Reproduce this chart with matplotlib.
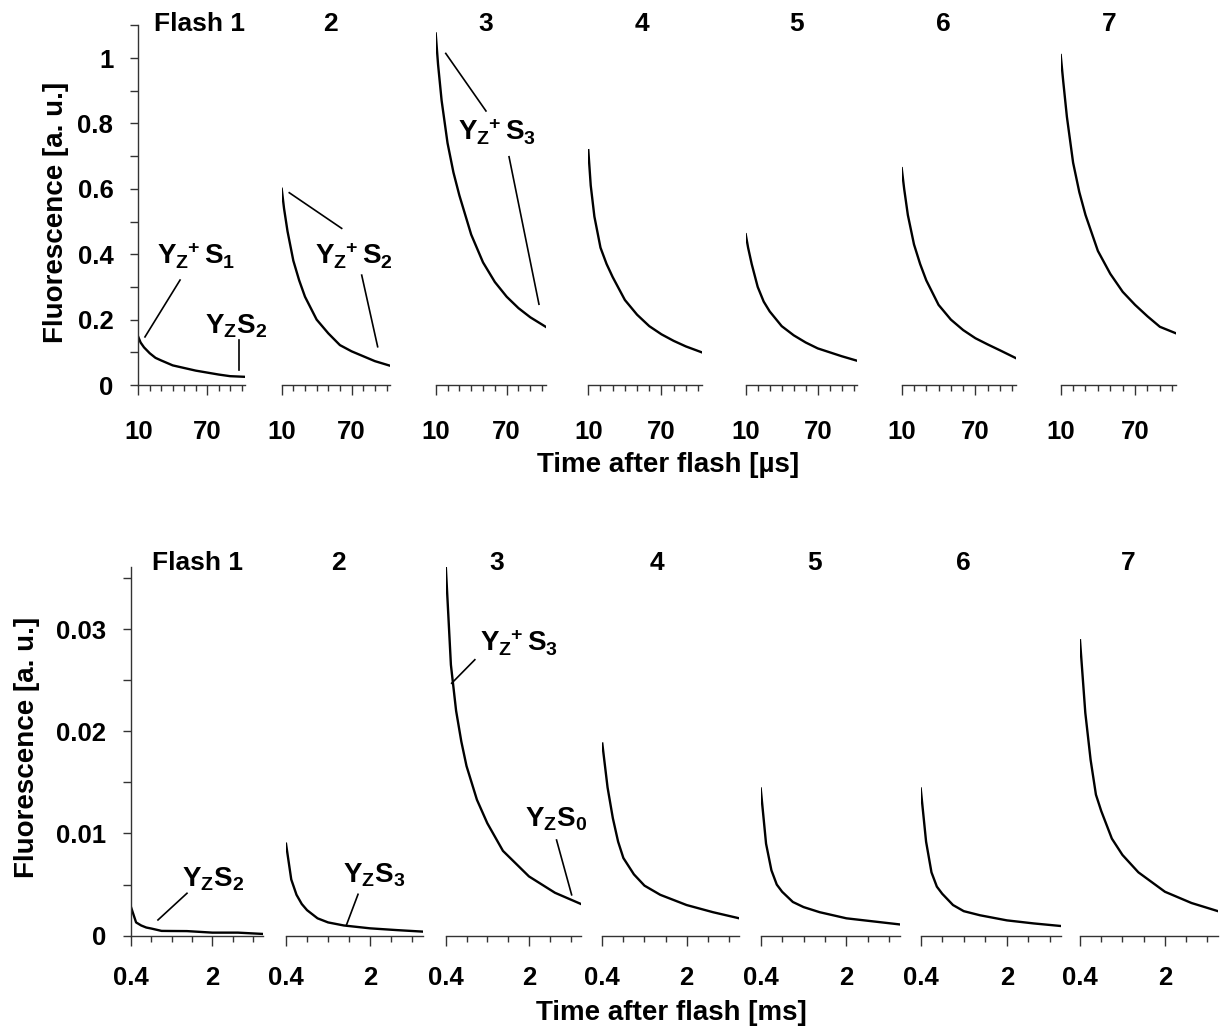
import matplotlib.pyplot as plt

# =========================
# DATA
# =========================

flashes = ["Flash 1", "2", "3", "4", "5", "6", "7"]

# top row: microseconds after flash
t_us = [10, 12, 15, 20, 25, 30, 40, 50, 60, 70, 80, 90, 103]
us_f1 = [0.147, 0.13, 0.115, 0.097, 0.083, 0.075, 0.06, 0.052, 0.044, 0.038, 0.032, 0.027, 0.025]
us_f2 = [0.60, 0.54, 0.47, 0.38, 0.32, 0.27, 0.20, 0.158, 0.122, 0.103, 0.088, 0.073, 0.059]
us_f3 = [1.075, 0.98, 0.87, 0.74, 0.65, 0.58, 0.46, 0.375, 0.315, 0.27, 0.235, 0.207, 0.178]
us_f4 = [0.718, 0.61, 0.515, 0.42, 0.37, 0.33, 0.26, 0.215, 0.18, 0.155, 0.135, 0.118, 0.10]
us_f5 = [0.461, 0.42, 0.37, 0.30, 0.255, 0.225, 0.18, 0.152, 0.13, 0.112, 0.10, 0.088, 0.074]
us_f6 = [0.663, 0.60, 0.52, 0.43, 0.37, 0.32, 0.245, 0.20, 0.168, 0.143, 0.124, 0.106, 0.082]
us_f7 = [1.009, 0.93, 0.82, 0.68, 0.59, 0.52, 0.41, 0.34, 0.285, 0.245, 0.21, 0.178, 0.158]

# bottom row: milliseconds after flash
t_ms = [0.4, 0.5, 0.6, 0.7, 0.8, 1.0, 1.2, 1.5, 2.0, 2.5, 3.0]
ms_f1 = [0.0028, 0.0013, 0.001, 0.0008, 0.0007, 0.00047, 0.00046, 0.00045, 0.0003, 0.0003, 0.00017]
ms_f2 = [0.0090, 0.0055, 0.0040, 0.0031, 0.0025, 0.0017, 0.0013, 0.001, 0.00072, 0.00055, 0.0004]
ms_f3 = [0.0363, 0.0265, 0.022, 0.019, 0.0166, 0.0133, 0.011, 0.0083, 0.0058, 0.0042, 0.0031]
ms_f4 = [0.0188, 0.0145, 0.0115, 0.0092, 0.0076, 0.006, 0.0049, 0.004, 0.003, 0.0023, 0.0017]
ms_f5 = [0.0144, 0.0090, 0.0064, 0.005, 0.0043, 0.0033, 0.0028, 0.0023, 0.0017, 0.0014, 0.0011]
ms_f6 = [0.0144, 0.0092, 0.0062, 0.0048, 0.0041, 0.003, 0.0024, 0.002, 0.0015, 0.0012, 0.00095]
ms_f7 = [0.0289, 0.0218, 0.0172, 0.0138, 0.0122, 0.0095, 0.0079, 0.0062, 0.0043, 0.0032, 0.0024]

us_curves = [us_f1, us_f2, us_f3, us_f4, us_f5, us_f6, us_f7]
ms_curves = [ms_f1, ms_f2, ms_f3, ms_f4, ms_f5, ms_f6, ms_f7]

# =========================
# STYLE
# =========================

plt.rcParams["font.family"] = ["Liberation Sans", "DejaVu Sans"]
plt.rcParams["font.weight"] = "bold"
plt.rcParams["mathtext.fontset"] = "custom"
plt.rcParams["mathtext.rm"] = "Liberation Sans:bold"
plt.rcParams["mathtext.default"] = "regular"

W, H = 1221, 1030
fig = plt.figure(figsize=(W / 100, H / 100), dpi=100)

AX_COL = "#333333"
TICK_FS = 18.5
ANN_FS = 20

# panel pixel extents (left, right)
top_px = [(138.3, 245), (281.7, 390), (435.7, 545.7), (588.3, 701.7),
          (745.7, 857.3), (901.7, 1016), (1060.7, 1176)]
bot_px = [(131, 263.3), (286, 422.7), (445.7, 581), (602.3, 739.3),
          (760.7, 900), (920.7, 1060.7), (1080, 1218)]


def make_axes(px, y0, y1):
    l, r = px
    return fig.add_axes([l / W, 1 - y0 / H, (r - l) / W, (y0 - y1) / H])


def style_axes(ax, first):
    ax.patch.set_alpha(0)
    for s in ["top", "right"]:
        ax.spines[s].set_visible(False)
    ax.spines["bottom"].set_color(AX_COL)
    ax.spines["bottom"].set_linewidth(1.0)
    ax.spines["left"].set_color(AX_COL)
    ax.spines["left"].set_linewidth(1.0)
    if not first:
        ax.spines["left"].set_visible(False)
        ax.tick_params(axis="y", left=False, labelleft=False)
    ax.tick_params(axis="both", which="both", direction="out", color=AX_COL, width=1.0)
    ax.tick_params(axis="x", which="major", length=7.5, labelsize=TICK_FS)
    ax.tick_params(axis="x", which="minor", length=4.5)
    ax.tick_params(axis="y", which="both", length=6, labelsize=TICK_FS, pad=12)


def ann(ax, x, y, s, line):
    ax.text(x, y, s, fontsize=ANN_FS, fontweight="bold", ha="left", va="baseline")
    ax.plot([line[0], line[2]], [line[1], line[3]], color="black", lw=1.2, clip_on=False)


# =========================
# TOP ROW (µs)
# =========================

top_axes = []
for i, (px, vals) in enumerate(zip(top_px, us_curves)):
    ax = make_axes(px, 385, 25.3)
    ax.plot(t_us, vals, color="black", lw=1.7, solid_joinstyle="round")
    ax.set_xlim(10, 103)
    ax.set_ylim(0, 1.1)
    ax.set_xticks([10, 70])
    ax.set_xticklabels(["10", "70"])
    ax.set_xticks([20, 30, 40, 50, 60, 80, 90, 100], minor=True)
    style_axes(ax, i == 0)
    ax.tick_params(axis="x", which="major", pad=18)
    if i == 0:
        ax.set_yticks([0, 0.2, 0.4, 0.6, 0.8, 1.0])
        ax.set_yticklabels(["0", "0.2", "0.4", "0.6", "0.8", "1"])
        ax.set_yticks([0.1, 0.3, 0.5, 0.7, 0.9, 1.1], minor=True)
    top_axes.append(ax)

ann(top_axes[0], 26.3, 0.367, r"Y$_Z\!{}^+$S$_1$", (46.4, 0.321, 15.8, 0.147))
ann(top_axes[0], 68.2, 0.158, r"Y$_Z$S$_2$", (97.8, 0.138, 97.8, 0.046))
ann(top_axes[1], 38.6, 0.367, r"Y$_Z\!{}^+$S$_2$", (61.5, 0.479, 16.5, 0.588))
top_axes[1].plot([78.7, 92.4], [0.336, 0.117], color="black", lw=1.2, clip_on=False)
ann(top_axes[2], 29.1, 0.749, r"Y$_Z\!{}^+$S$_3$", (52.5, 0.838, 18.5, 1.014))
top_axes[2].plot([72, 97.3], [0.698, 0.247], color="black", lw=1.2, clip_on=False)

# =========================
# BOTTOM ROW (ms)
# =========================

bot_axes = []
for i, (px, vals) in enumerate(zip(bot_px, ms_curves)):
    ax = make_axes(px, 935.7, 566.7)
    ax.plot(t_ms, vals, color="black", lw=1.7, solid_joinstyle="round")
    ax.set_xlim(0.4, 3.0)
    ax.set_ylim(0, 0.0361)
    ax.set_xticks([0.4, 2.0])
    ax.set_xticklabels(["0.4", "2"])
    ax.set_xticks([0.8, 1.2, 1.6, 2.4, 2.8], minor=True)
    style_axes(ax, i == 0)
    ax.tick_params(axis="x", which="major", pad=14)
    if i == 0:
        ax.set_yticks([0, 0.01, 0.02, 0.03])
        ax.set_yticklabels(["0", "0.01", "0.02", "0.03"])
        ax.set_yticks([0.005, 0.015, 0.025, 0.035], minor=True)
    bot_axes.append(ax)

ann(bot_axes[0], 1.40, 0.0048, r"Y$_Z$S$_2$", (1.50, 0.00415, 0.93, 0.00154))
ann(bot_axes[1], 1.49, 0.0052, r"Y$_Z$S$_3$", (1.77, 0.00405, 1.55, 0.00105))
ann(bot_axes[2], 1.06, 0.0278, r"Y$_Z\!{}^+$S$_3$", (0.96, 0.027, 0.515, 0.0247))
ann(bot_axes[2], 1.925, 0.01066, r"Y$_Z$S$_0$", (2.53, 0.00936, 2.82, 0.004))

# =========================
# TITLES & LABELS
# =========================

top_title_x = [200, 330, 486, 642, 797, 943, 1109]
bot_title_x = [197, 338, 497, 657, 815, 963, 1128]
for name, xt, xb in zip(flashes, top_title_x, bot_title_x):
    fig.text(xt / W, 1 - 24 / H, name, fontsize=19, fontweight="bold", ha="center", va="center")
    fig.text(xb / W, 1 - 563.5 / H, name, fontsize=19, fontweight="bold", ha="center", va="center")

fig.text(668 / W, 1 - 465 / H, "Time after flash [µs]", fontsize=20, fontweight="bold",
         ha="center", va="center")
fig.text(671 / W, 1 - 1013 / H, "Time after flash [ms]", fontsize=20, fontweight="bold",
         ha="center", va="center")
fig.text(56 / W, 1 - 212.5 / H, "Fluorescence [a. u.]", fontsize=20, fontweight="bold",
         ha="center", va="center", rotation=90)
fig.text(27 / W, 1 - 747.5 / H, "Fluorescence [a. u.]", fontsize=20, fontweight="bold",
         ha="center", va="center", rotation=90)

plt.savefig("out.png", dpi=100)
